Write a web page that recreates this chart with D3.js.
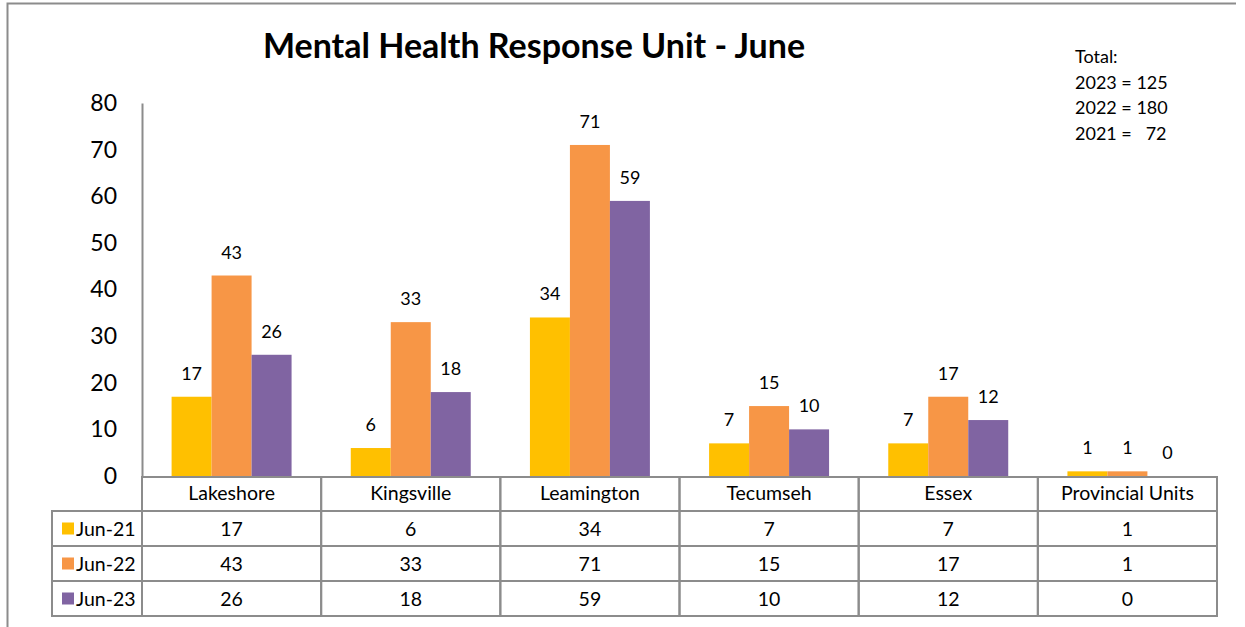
<!DOCTYPE html>
<html>
<head>
<meta charset="utf-8">
<script src="https://cdn.jsdelivr.net/npm/d3@7"></script>
<style>
  body { margin: 0; background: #fff; }
  svg { display: block; font-family: Lato, "Open Sans", sans-serif; }
</style>
</head>
<body>
<div id="chart"></div>
<script>
const categories = ["Lakeshore", "Kingsville", "Leamington", "Tecumseh", "Essex", "Provincial Units"];
const seriesNames = ["Jun-21", "Jun-22", "Jun-23"];
const jun21 = [17, 6, 34, 7, 7, 1];
const jun22 = [43, 33, 71, 15, 17, 1];
const jun23 = [26, 18, 59, 10, 12, 0];
const colors = ["#FFC000", "#F79646", "#8064A2"];
const yTicks = [0, 10, 20, 30, 40, 50, 60, 70, 80];
const totals = ["Total:", "2023 = 125", "2022 = 180", "2021 =   72"];

const width = 1245, height = 627;
const series = [jun21, jun22, jun23];

const svg = d3.select("#chart").append("svg")
    .attr("width", width)
    .attr("height", height);

// outer frame
svg.append("path")
    .attr("d", `M7.5,${height} V3.5 H1236`)
    .attr("fill", "none")
    .attr("stroke", "#8c8c8c")
    .attr("stroke-width", 2);

const plotLeft = 142, plotRight = 1217;
const y0 = 476, yTop = 103;

const x = d3.scaleBand()
    .domain(categories)
    .range([plotLeft, plotRight])
    .paddingInner(0)
    .paddingOuter(0);

const xs = d3.scaleBand()
    .domain(seriesNames)
    .range([0, x.bandwidth()])
    .paddingInner(0)
    .paddingOuter(0.74);

const y = d3.scaleLinear().domain([0, 80]).range([y0, yTop]);

// title
svg.append("text")
    .attr("x", 534)
    .attr("y", 58)
    .attr("text-anchor", "middle")
    .attr("font-size", 34)
    .attr("font-weight", "bold")
    .text("Mental Health Response Unit - June");

// totals note
svg.append("g").selectAll("text")
    .data(totals)
    .enter().append("text")
    .attr("x", 1075)
    .attr("y", (d, i) => 63 + i * 25.5)
    .attr("font-size", 18)
    .attr("xml:space", "preserve")
    .style("white-space", "pre")
    .text(d => d);

// y axis
const yAxis = svg.append("g")
    .attr("transform", `translate(${plotLeft},0)`)
    .call(d3.axisLeft(y).tickValues(yTicks).tickSize(0).tickPadding(25));
yAxis.select(".domain").attr("stroke", "#8c8c8c").attr("stroke-width", 2);
yAxis.selectAll("text")
    .attr("font-size", 23)
    .attr("font-family", "Lato, 'Open Sans', sans-serif")
    .attr("fill", "#000");

// bars
const groups = svg.append("g").selectAll("g")
    .data(series)
    .enter().append("g")
    .attr("fill", (d, i) => colors[i]);

groups.each(function (vals, si) {
    const g = d3.select(this);
    g.selectAll("rect")
        .data(vals)
        .enter().append("rect")
        .attr("x", (d, i) => x(categories[i]) + xs(seriesNames[si]))
        .attr("y", d => y(d))
        .attr("width", xs.bandwidth())
        .attr("height", d => y0 - y(d));
    g.selectAll("text")
        .data(vals)
        .enter().append("text")
        .attr("x", (d, i) => x(categories[i]) + xs(seriesNames[si]) + xs.bandwidth() / 2)
        .attr("y", d => y(d) - 17)
        .attr("text-anchor", "middle")
        .attr("font-size", 18)
        .attr("fill", "#000")
        .text(d => d);
});

// data table
const rowH = 35;
const headTop = 477, headBottom = 511;
const legendLeft = 52;
const tableStroke = "#8c8c8c";
const table = svg.append("g");

// header row
table.selectAll("rect.head")
    .data(categories)
    .enter().append("rect")
    .attr("class", "head")
    .attr("x", d => x(d))
    .attr("y", headTop)
    .attr("width", x.bandwidth())
    .attr("height", headBottom - headTop)
    .attr("fill", "none")
    .attr("stroke", tableStroke)
    .attr("stroke-width", 2);
table.selectAll("text.head")
    .data(categories)
    .enter().append("text")
    .attr("class", "head")
    .attr("x", d => x(d) + x.bandwidth() / 2)
    .attr("y", headBottom - 11)
    .attr("text-anchor", "middle")
    .attr("font-size", 19.5)
    .text(d => d);

// series rows
series.forEach((vals, si) => {
    const top = headBottom + si * rowH;
    const row = table.append("g");
    row.append("rect")
        .attr("x", legendLeft)
        .attr("y", top)
        .attr("width", plotLeft - legendLeft)
        .attr("height", rowH)
        .attr("fill", "none")
        .attr("stroke", tableStroke)
        .attr("stroke-width", 2);
    row.append("rect")
        .attr("x", 62)
        .attr("y", top + rowH / 2 - 6)
        .attr("width", 12)
        .attr("height", 12)
        .attr("fill", colors[si]);
    row.append("text")
        .attr("x", 76)
        .attr("y", top + rowH / 2 + 7)
        .attr("font-size", 19.5)
        .text(seriesNames[si]);
    row.selectAll("rect.cell")
        .data(vals)
        .enter().append("rect")
        .attr("class", "cell")
        .attr("x", (d, i) => x(categories[i]))
        .attr("y", top)
        .attr("width", x.bandwidth())
        .attr("height", rowH)
        .attr("fill", "none")
        .attr("stroke", tableStroke)
        .attr("stroke-width", 2);
    row.selectAll("text.cell")
        .data(vals)
        .enter().append("text")
        .attr("class", "cell")
        .attr("x", (d, i) => x(categories[i]) + x.bandwidth() / 2)
        .attr("y", top + rowH / 2 + 7)
        .attr("text-anchor", "middle")
        .attr("font-size", 19.5)
        .text(d => d);
});
</script>
</body>
</html>
